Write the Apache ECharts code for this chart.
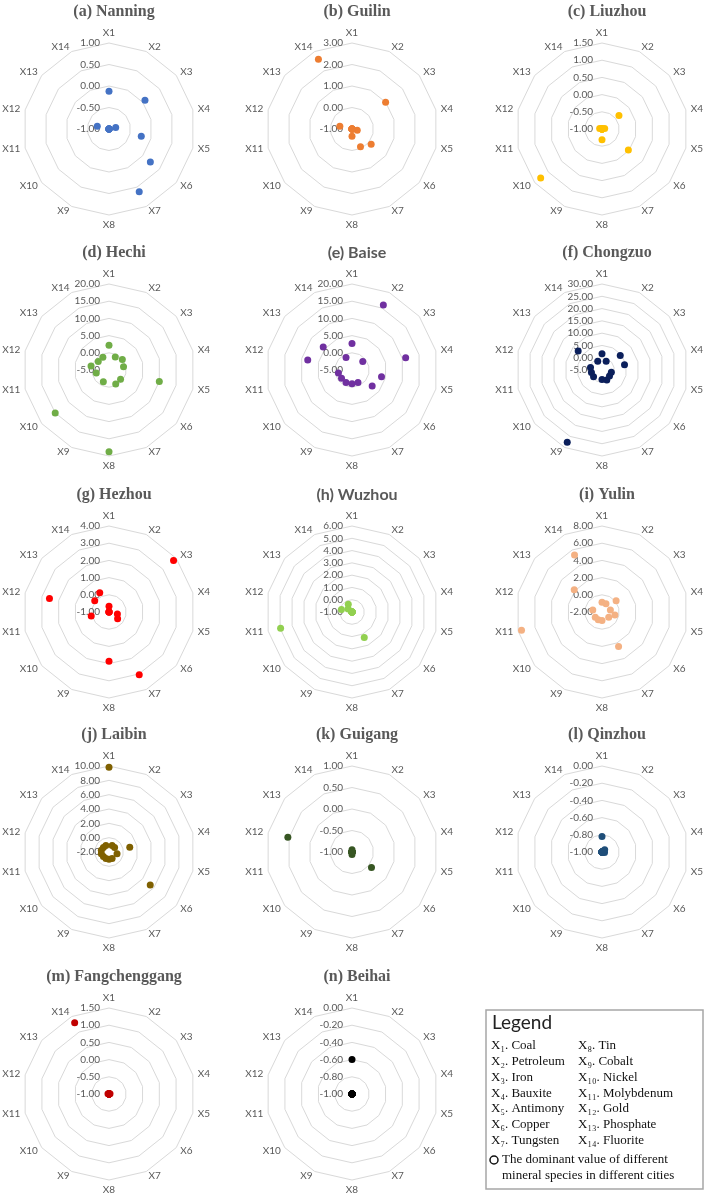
<!DOCTYPE html>
<html>
<head>
<meta charset="utf-8">
<title>Dominant mineral values by city</title>
<script src="https://cdn.jsdelivr.net/npm/echarts@6/dist/echarts.min.js"></script>
<style>
html, body { margin: 0; padding: 0; background: #fff; }
#chart { width: 707px; height: 1199px; }
</style>
</head>
<body>
<div id="chart"></div>
<script>
const axisNames = ['X1', 'X2', 'X3', 'X4', 'X5', 'X6', 'X7', 'X8', 'X9', 'X10', 'X11', 'X12', 'X13', 'X14'];

const cityTitles = [
  '(a) Nanning', '(b) Guilin', '(c) Liuzhou', '(d) Hechi', '(e) Baise', '(f) Chongzuo', '(g) Hezhou',
  '(h) Wuzhou', '(i) Yulin', '(j) Laibin', '(k) Guigang', '(l) Qinzhou', '(m) Fangchenggang', '(n) Beihai'
];

// radial axis range and ring count of each panel
const axisMin = [-1, -1, -1, -5, -5, -5, -1, -1, -2, -2, -1, -1, -1, -1];
const axisMax = [1, 3, 1.5, 20, 20, 30, 4, 6, 8, 10, 1, 0, 1.5, 0];
const ringCount = [4, 4, 5, 5, 5, 7, 5, 7, 5, 6, 4, 5, 5, 5];

// values X1..X14 per city
const nanning = [-0.12, -1, 0.07, -0.84, -0.23, 0.23, 0.62, -1, -1, -1, -1, -0.72, -1, -1];
const guilin = [-1, -1, 1.0, -1, -0.75, 0.14, -0.09, -0.66, -1, -1, -1, -0.42, -1, 2.6];
const liuzhou = [-1, -1, -0.37, -0.92, -1, -0.02, -1, -0.69, -1, 1.28, -1, -0.93, -1, -1];
const hechi = [2.2, -0.8, -0.05, -0.67, 10.0, -0.7, -0.5, 18.8, -1.2, 15.0, -1.2, 0.35, -1.0, -0.9];
const baise = [2.7, 16.0, -1.0, 11.0, 3.8, 2.5, -1.0, -1.0, -1.0, -1.1, -0.95, 8.2, 5.7, -1.0];
const chongzuo = [1.6, -1.1, 4.5, 4.4, -1.1, -1.1, -0.5, -1.1, 27.6, -0.6, -0.6, -0.2, 7.4, -1.0];
const hezhou = [-0.67, -1, 3.8, -1, -0.5, -0.36, 3.05, 1.87, -1, -1, 0.06, 2.55, 0.06, 0.24];
const wuzhou = [-1, -1, -1, -1, -1, -1, 1.3, -1, -1, -1, 4.96, -0.12, -0.6, -0.3];
const yulin = [-0.86, -0.93, 0.1, -1.0, -0.46, -1.0, 2.44, -1.0, -1.0, -1.0, 7.6, -0.9, 2.13, 5.36];
const laibin = [9.83, -1, -1, 0.97, -0.85, 5.36, -1, -1, -1, -1, -0.9, -0.9, -1, -1];
const guigang = [-0.95, -1, -1, -1, -1, -0.42, -1, -0.94, -1, -1, -1, 0.53, -1, -1];
const qinzhou = [-0.82, -1, -0.96, -1, -0.97, -1, -1, -1, -1, -1, -1, -1, -1, -1];
const fangchenggang = [-1, -1, -1, -0.97, -1, -1, -1, -1, -1, -1, -1, -0.97, -1, 1.3];
const beihai = [-0.6, -1, -1, -1, -1, -1, -1, -1, -1, -1, -1, -1, -1, -1];

const cityValues = [nanning, guilin, liuzhou, hechi, baise, chongzuo, hezhou,
  wuzhou, yulin, laibin, guigang, qinzhou, fangchenggang, beihai];

const cityColors = ['#4472C4', '#ED7D31', '#FFC000', '#70AD47', '#7030A0', '#0B1F5B', '#FF0000',
  '#92D050', '#F4B183', '#7F6000', '#375623', '#1F4E79', '#C00000', '#000000'];

const legendLeft = ['X₁. Coal', 'X₂. Petroleum', 'X₃. Iron', 'X₄. Bauxite', 'X₅. Antimony', 'X₆. Copper', 'X₇. Tungsten'];
const legendRight = ['X₈. Tin', 'X₉. Cobalt', 'X₁₀. Nickel', 'X₁₁. Molybdenum', 'X₁₂. Gold', 'X₁₃. Phosphate', 'X₁₄. Fluorite'];
const legendNote = ['The dominant value of different', 'mineral species in different cities'];

// layout
const colX = [109, 352, 602];
const rowY = [129, 370, 612, 852, 1094];
const radius = 86;
const sansTitles = [4, 7];
const grey = '#595959';

// echarts lays radar axes out counter-clockwise, so feed X1, X14, X13 ... X2
const order = [0, 13, 12, 11, 10, 9, 8, 7, 6, 5, 4, 3, 2, 1];

const fmt = v => (Math.abs(v) < 1e-9 ? 0 : v).toFixed(2);

const chart = echarts.init(document.getElementById('chart'));

const radars = cityTitles.map((t, i) => ({
  center: [colX[i % 3], rowY[Math.floor(i / 3)]],
  radius: radius,
  startAngle: 90,
  shape: 'polygon',
  splitNumber: ringCount[i],
  nameGap: 5,
  axisName: { color: grey, fontSize: 10, fontFamily: 'Lato' },
  splitLine: { lineStyle: { color: '#D9D9D9', width: 1 } },
  splitArea: { show: false },
  axisLine: { show: false },
  axisTick: { show: false },
  axisLabel: { show: true, color: grey, fontSize: 10, fontFamily: 'Lato', margin: 9, formatter: fmt },
  indicator: order.map((k, j) => {
    const ind = { name: axisNames[k], min: axisMin[i], max: axisMax[i] };
    if (j > 0) ind.axisLabel = { show: false };
    return ind;
  })
}));

const titles = cityTitles.map((t, i) => ({
  text: t,
  left: colX[i % 3],
  top: rowY[Math.floor(i / 3)] - 130,
  textAlign: 'center',
  textStyle: {
    fontFamily: sansTitles.includes(i) ? 'Lato' : 'Liberation Serif',
    fontWeight: 'bold',
    fontSize: sansTitles.includes(i) ? 16 : 16,
    color: grey
  }
}));

const series = cityTitles.map((t, i) => ({
  type: 'radar',
  radarIndex: i,
  symbol: 'circle',
  symbolSize: 7,
  silent: true,
  lineStyle: { width: 0, opacity: 0 },
  itemStyle: { color: cityColors[i] },
  data: [{ name: t, value: order.map(k => cityValues[i][k]) }]
}));

// legend box
const box = { x: 486, y: 1010, w: 217, h: 179 };
const legendItems = [];
legendItems.push({
  type: 'rect',
  shape: { x: box.x, y: box.y, width: box.w, height: box.h },
  style: { fill: '#fff', stroke: '#A6A6A6', lineWidth: 1.5 }
});
legendItems.push({
  type: 'text', x: box.x + 6, y: box.y + 13,
  style: { text: 'Legend', font: '19px Lato', fill: '#222', verticalAlign: 'middle' }
});
legendLeft.forEach((s, j) => {
  legendItems.push({
    type: 'text', x: box.x + 5, y: box.y + 36 + j * 15.7,
    style: { text: s, font: '13px "Liberation Serif"', fill: '#111', verticalAlign: 'middle' }
  });
});
legendRight.forEach((s, j) => {
  legendItems.push({
    type: 'text', x: box.x + 92, y: box.y + 36 + j * 15.7,
    style: { text: s, font: '13px "Liberation Serif"', fill: '#111', verticalAlign: 'middle' }
  });
});
legendItems.push({
  type: 'circle', shape: { cx: box.x + 8, cy: box.y + 150, r: 4 },
  style: { fill: 'none', stroke: '#111', lineWidth: 1.5 }
});
legendNote.forEach((s, j) => {
  legendItems.push({
    type: 'text', x: box.x + 16, y: box.y + 150 + j * 16,
    style: { text: s, font: '13px "Liberation Serif"', fill: '#111', verticalAlign: 'middle' }
  });
});

chart.setOption({
  backgroundColor: '#fff',
  animation: false,
  title: titles,
  radar: radars,
  series: series,
  graphic: legendItems
});
</script>
</body>
</html>
